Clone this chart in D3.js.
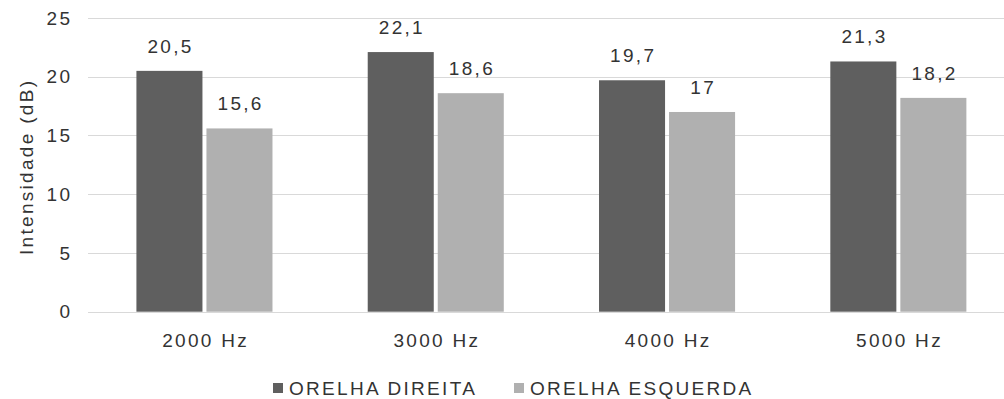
<!DOCTYPE html>
<html>
<head>
<meta charset="utf-8">
<script src="https://cdn.jsdelivr.net/npm/d3@7"></script>
<style>
  body { margin: 0; background: #fff; }
  text { font-family: "Liberation Sans", Arial, sans-serif; fill: #333; }
</style>
</head>
<body>
<div id="chart"></div>
<script>
var categories = ["2000 Hz", "3000 Hz", "4000 Hz", "5000 Hz"];
var seriesNames = ["ORELHA DIREITA", "ORELHA ESQUERDA"];
var direita = [20.5, 22.1, 19.7, 21.3];
var esquerda = [15.6, 18.6, 17, 18.2];
var yTicks = [0, 5, 10, 15, 20, 25];
var colors = ["#5f5f5f", "#b0b0b0"];

var width = 1004, height = 399;
var fontSize = 19, spacing = 2.3;

var svg = d3.select("#chart").append("svg")
    .attr("width", width)
    .attr("height", height);

var x = d3.scaleBand()
    .domain(categories)
    .range([88.8, 1014]);

// two bars per category, small gap between them
var xInner = d3.scaleBand()
    .domain([0, 1])
    .range([0, x.bandwidth()])
    .paddingInner(0.057)
    .paddingOuter(0.68);

var y = d3.scaleLinear()
    .domain([0, 25])
    .range([311.7, 18]);

// gridlines
svg.selectAll("line.grid")
    .data(yTicks)
    .enter().append("line")
    .attr("class", "grid")
    .attr("x1", 88)
    .attr("x2", width)
    .attr("y1", function(d) { return Math.round(y(d)) + 0.5; })
    .attr("y2", function(d) { return Math.round(y(d)) + 0.5; })
    .attr("stroke", "#d9d9d9")
    .attr("stroke-width", 1);

// y tick labels
svg.selectAll("text.ytick")
    .data(yTicks)
    .enter().append("text")
    .attr("class", "ytick")
    .attr("x", 70 + spacing)
    .attr("y", function(d) { return y(d); })
    .attr("dy", "0.35em")
    .attr("text-anchor", "end")
    .attr("font-size", fontSize)
    .attr("letter-spacing", spacing)
    .text(function(d) { return d; });

// y axis title
svg.append("text")
    .attr("transform", "translate(33," + (y(12.5) + 2) + ") rotate(-90)")
    .attr("text-anchor", "middle")
    .attr("font-size", fontSize)
    .attr("letter-spacing", spacing)
    .text("Intensidade (dB)");

var data = [];
categories.forEach(function(c, i) {
    data.push({cat: c, s: 0, v: direita[i]});
    data.push({cat: c, s: 1, v: esquerda[i]});
});

var fmt = function(v) { return String(v).replace(".", ","); };

svg.selectAll("rect.bar")
    .data(data)
    .enter().append("rect")
    .attr("class", "bar")
    .attr("x", function(d) { return x(d.cat) + xInner(d.s); })
    .attr("width", xInner.bandwidth())
    .attr("y", function(d) { return y(d.v); })
    .attr("height", function(d) { return y(0) - y(d.v); })
    .attr("fill", function(d) { return colors[d.s]; });

svg.selectAll("text.val")
    .data(data)
    .enter().append("text")
    .attr("class", "val")
    .attr("x", function(d) { return x(d.cat) + xInner(d.s) + xInner.bandwidth() / 2 + spacing / 2; })
    .attr("y", function(d) { return y(d.v) - 18; })
    .attr("text-anchor", "middle")
    .attr("font-size", fontSize)
    .attr("letter-spacing", spacing)
    .text(function(d) { return fmt(d.v); });

// x labels
svg.selectAll("text.xlab")
    .data(categories)
    .enter().append("text")
    .attr("class", "xlab")
    .attr("x", function(d) { return x(d) + x.bandwidth() / 2 + spacing / 2; })
    .attr("y", 347)
    .attr("text-anchor", "middle")
    .attr("font-size", fontSize)
    .attr("letter-spacing", spacing)
    .text(function(d) { return d; });

// legend
var legendX = [273, 514];
var legend = svg.selectAll("g.legend")
    .data(seriesNames)
    .enter().append("g")
    .attr("class", "legend")
    .attr("transform", function(d, i) { return "translate(" + legendX[i] + ",383)"; });

legend.append("rect")
    .attr("width", 10)
    .attr("height", 10)
    .attr("fill", function(d, i) { return colors[i]; });

legend.append("text")
    .attr("x", 16)
    .attr("y", 12)
    .attr("font-size", fontSize)
    .attr("letter-spacing", spacing)
    .text(function(d) { return d; });
</script>
</body>
</html>
